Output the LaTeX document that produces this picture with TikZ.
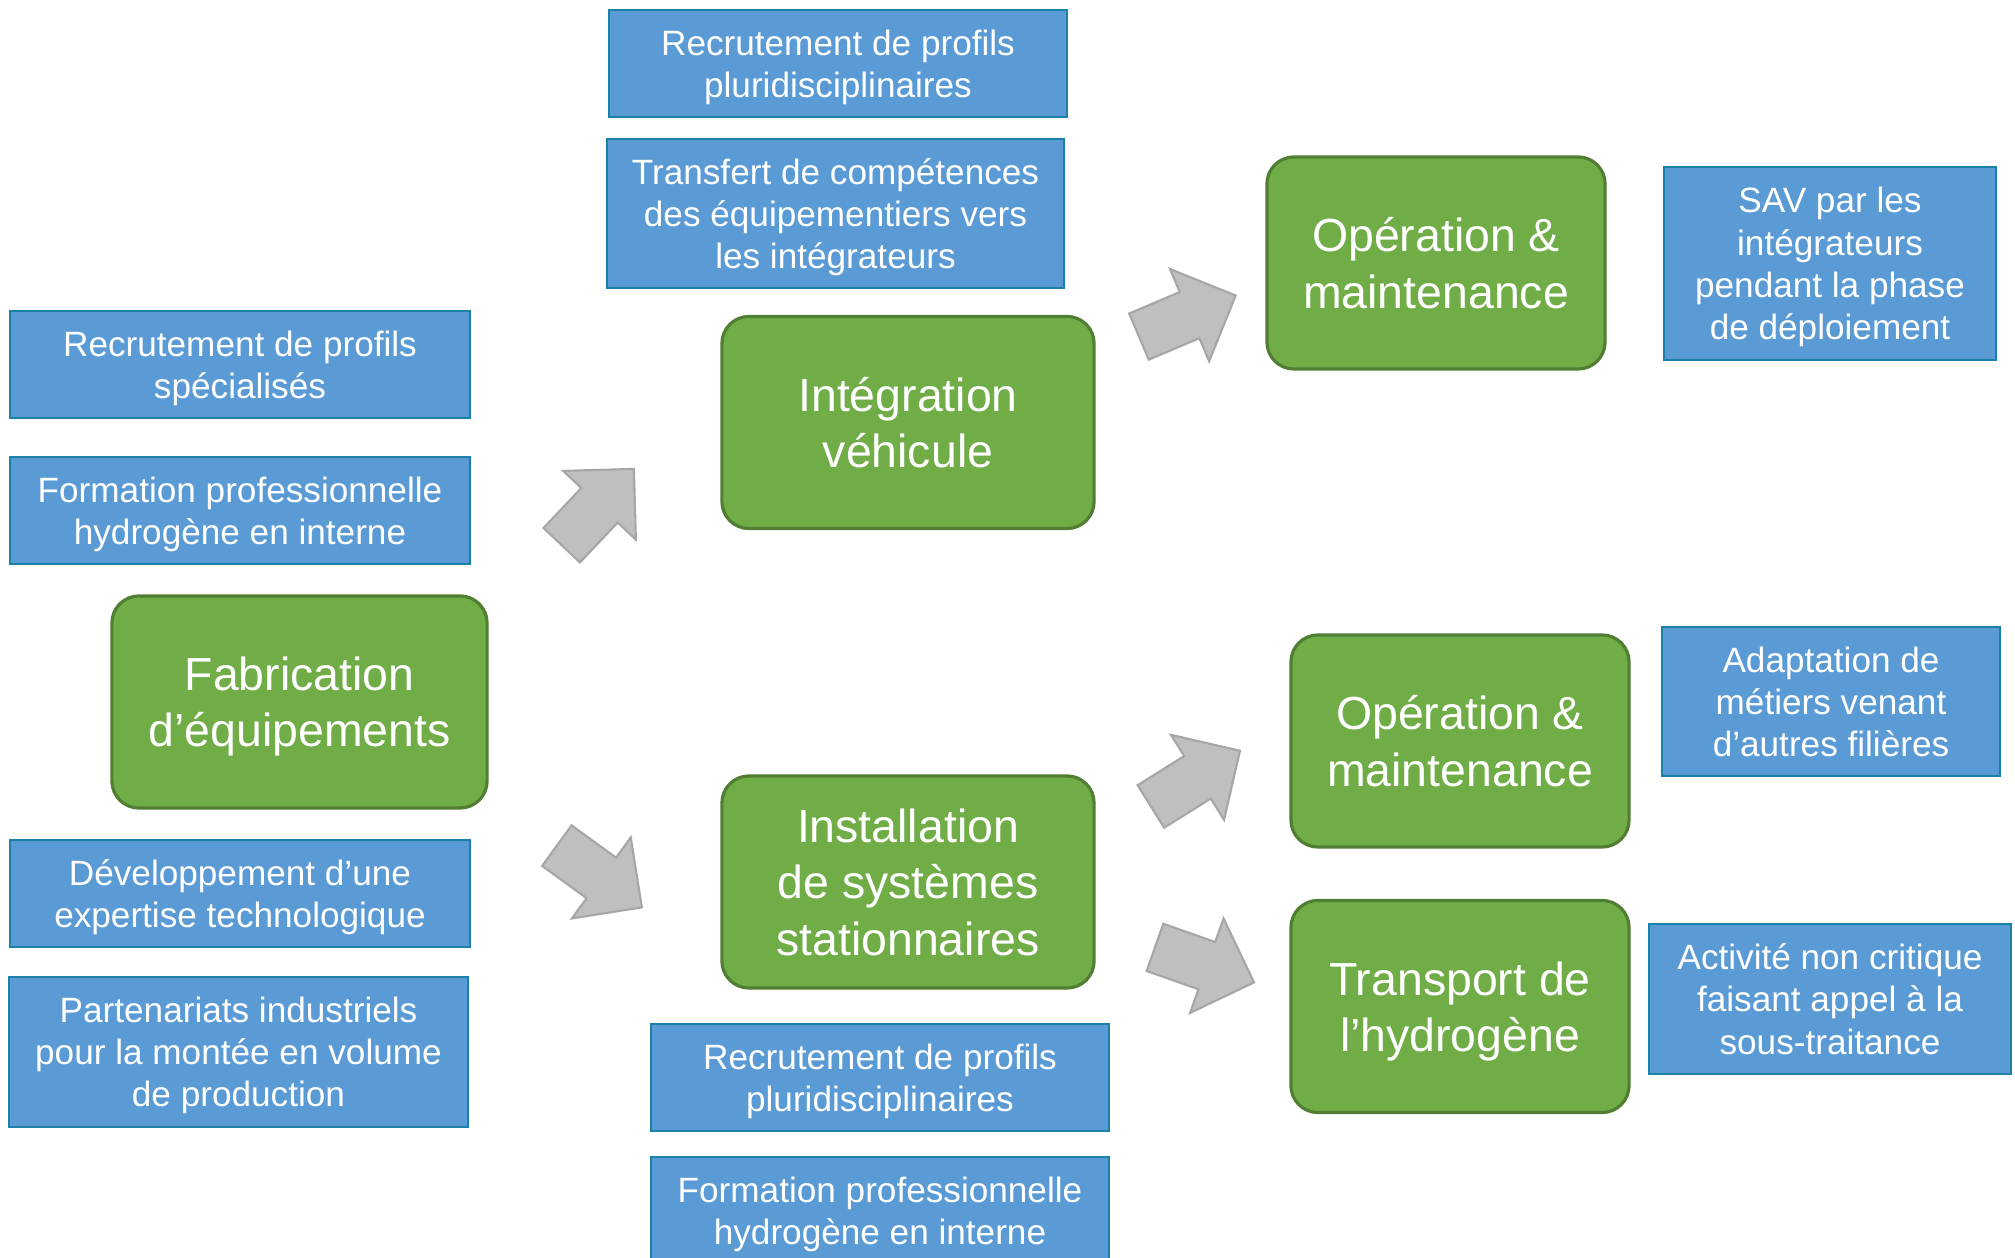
\documentclass[tikz,border=0pt]{standalone}
\usepackage{fontspec}
\setmainfont{Liberation Sans}
\usepackage{xcolor}
\usetikzlibrary{positioning, shapes.arrows}

\definecolor{stagegreen}{HTML}{70AD47}
\definecolor{stageborder}{HTML}{507E32}
\definecolor{actionblue}{HTML}{5B9BD5}
\definecolor{actionborder}{HTML}{1A82A6}
\definecolor{arrowgray}{HTML}{BFBFBF}
\definecolor{arrowborder}{HTML}{A6A6A6}

\begin{document}
\begin{tikzpicture}[
    x=0.01cm, y=-0.01cm,
    stage/.style={rectangle, rounded corners=0.27cm, draw=stageborder, fill=stagegreen, line width=0.9pt, minimum width=3.38cm, minimum height=2.12cm, align=center, text=white, text depth=0pt, font=\fontsize{13.2}{16}\selectfont},
    action/.style={rectangle, draw=actionborder, fill=actionblue, line width=0.6pt, minimum width=4.58cm, minimum height=1.07cm, align=center, text=white, text depth=0pt, inner sep=0pt, font=\fontsize{10}{12}\selectfont},
    bigarrow/.style={single arrow, draw=arrowborder, fill=arrowgray, line width=0.6pt, minimum height=1.05cm, minimum width=0.98cm, single arrow head extend=0.25cm, inner xsep=0pt, inner ysep=0.24cm, anchor=tail},
]
\useasboundingbox (0,0) rectangle (2015,1258);

% Stages
\node[stage, minimum width=3.75cm] (fab) at (299.5,702) {Fabrication\\d’équipements};
\node[stage, minimum width=3.72cm] (integ) at (908,422.5) {Intégration\\véhicule};
\node[stage, minimum width=3.72cm] (install) at (908,882) {Installation\\de systèmes\\stationnaires};
\node[stage] (omveh) at (1436,263) {Opération \&\\maintenance};
\node[stage] (omstat) at (1460,741) {Opération \&\\maintenance};
\node[stage] (transp) at (1460,1006.5) {Transport de\\l’hydrogène};

% Actions, equipment makers
\node[action, minimum width=4.6cm] (fabrec) at (240,364.5) {Recrutement de profils\\spécialisés};
\node[action, minimum width=4.59cm, below=0.37cm of fabrec] (fabform) {Formation professionnelle\\hydrogène en interne};
\node[action, minimum width=4.6cm] (fabdev) at (240,893.5) {Développement d’une\\expertise technologique};
\node[action, minimum width=4.59cm, minimum height=1.5cm] (fabpart) at (238.5,1052) {Partenariats industriels\\pour la montée en volume\\de production};

% Actions, vehicle integration
\node[action] (integrec) at (838,63.5) {Recrutement de profils\\pluridisciplinaires};
\node[action, minimum width=4.57cm, minimum height=1.49cm] (integtrans) at (835.5,213.5) {Transfert de compétences\\des équipementiers vers\\les intégrateurs};

% Actions, stationary systems
\node[action] (instrec) at (880,1077.5) {Recrutement de profils\\pluridisciplinaires};
\node[action, below=0.24cm of instrec] (instform) {Formation professionnelle\\hydrogène en interne};

% Actions, downstream
\node[action, minimum width=3.32cm, minimum height=1.93cm] (omvehsav) at (1830,263.5) {SAV par les\\intégrateurs\\pendant la phase\\de déploiement};
\node[action, minimum width=3.38cm, minimum height=1.49cm] (omstatadapt) at (1831,701.5) {Adaptation de\\métiers venant\\d’autres filières};
\node[action, minimum width=3.62cm, minimum height=1.5cm] (transpsub) at (1830,999) {Activité non critique\\faisant appel à la\\sous-traitance};

% Arrows
\node[bigarrow, rotate=46.6] (a1) at (561,546) {};
\node[bigarrow, rotate=-36] (a2) at (556,845) {};
\node[bigarrow, rotate=23] (a3) at (1138,337) {};
\node[bigarrow, rotate=32] (a4) at (1150,807) {};
\node[bigarrow, rotate=-19.5] (a5) at (1154,947) {};

\end{tikzpicture}
\end{document}
